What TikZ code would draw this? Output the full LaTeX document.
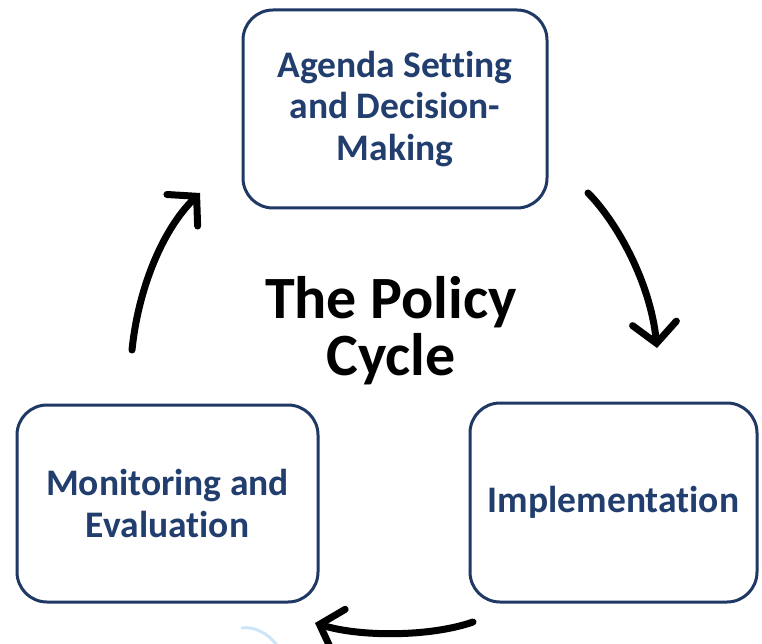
\documentclass[tikz,border=0pt]{standalone}
\usepackage{fontspec}
\setmainfont[Ligatures=NoCommon]{Carlito}
\usetikzlibrary{arrows.meta}
\definecolor{boxblue}{RGB}{31,56,100}
\definecolor{textblue}{RGB}{33,62,110}
\definecolor{faintblue}{RGB}{205,230,247}
\begin{document}
\begin{tikzpicture}[x=1pt,y=-1pt,
  stagebox/.style={draw=boxblue,line width=3pt,rounded corners=30pt,fill=white,
    text=textblue,align=center,inner sep=0pt,
    font=\fontsize{37.5}{41.5}\selectfont\bfseries},
  cyclearrow/.style={line width=7pt,line cap=round,
    -{Straight Barb[length=20pt,width=44pt,line cap=round]}},
  titletext/.style={align=center,text=black,font=\fontsize{60}{57}\selectfont\bfseries}]
\useasboundingbox (0,0) rectangle (762,644);
\fill[white] (0,0) rectangle (762,644);
\node[stagebox,minimum width=304pt,minimum height=198pt] (agenda) at (395,109)
  {Agenda Setting\\and Decision-\\Making};
\node[stagebox,minimum width=301pt,minimum height=197pt] (monitor) at (167.5,503.5)
  {Monitoring and\\Evaluation};
\node[stagebox,minimum width=287pt,minimum height=199pt] (impl) at (613.5,502.5)
  {Implementation};
\node[titletext] (title) at (391,331) {The Policy\\Cycle};
\coordinate (a1s) at (588,193);
\coordinate (a1e) at (657,348);
\coordinate (a2s) at (473,622);
\coordinate (a2e) at (315,623);
\coordinate (a3s) at (132,350);
\coordinate (a3e) at (200,193);
\draw[cyclearrow] (a1s) .. controls (615,220) and (650,280) .. (a1e);
\draw[cyclearrow] (a2s) .. controls (430,637) and (360,637) .. (a2e);
\draw[cyclearrow] (a3s) .. controls (138,290) and (162,230) .. (a3e);
\coordinate (f1) at (242,628);
\coordinate (f2) at (276,644);
\draw[faintblue,line width=3pt,line cap=round] (f1) .. controls (255,626) and (268,634) .. (f2);
\end{tikzpicture}
\end{document}
